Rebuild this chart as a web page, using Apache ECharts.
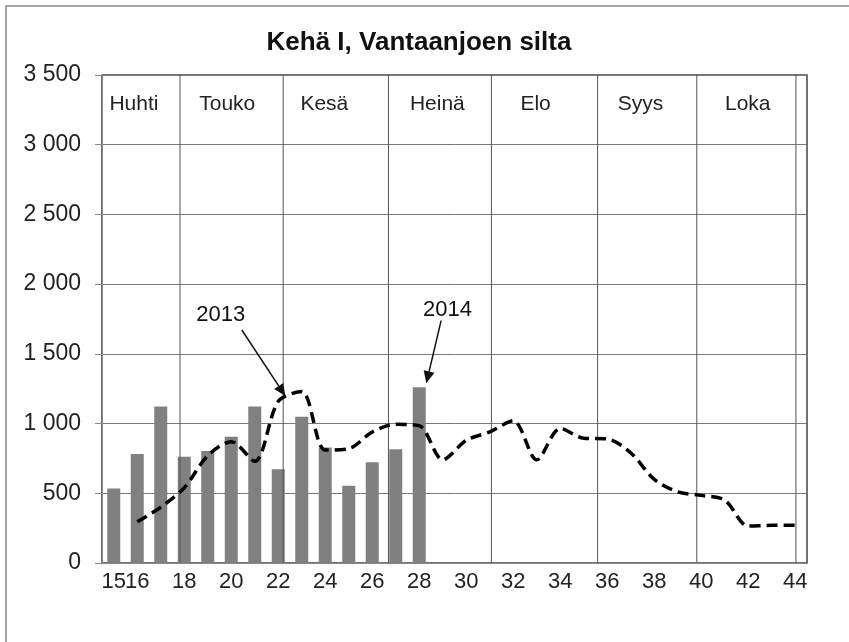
<!DOCTYPE html>
<html lang="fi">
<head>
    <meta charset="UTF-8">
    <title>Kehä I, Vantaanjoen silta</title>
    <script src="https://cdn.jsdelivr.net/npm/echarts@6/dist/echarts.min.js"></script>
    <style>
        html, body { margin: 0; padding: 0; background: #fff; }
        #chart { width: 849px; height: 642px; }
    </style>
</head>
<body>
    <div id="chart"></div>
    <script>
    // viikot 15-44
    const weeks = [];
    for (let w = 15; w <= 44; w++) weeks.push(String(w));

    // 2014 (pylväät), viikot 15-28
    const bars2014 = [535, 781, 1123, 762, 803, 906, 1123, 672, 1049, 829, 554, 722, 815, 1260];

    // 2013 (katkoviiva), viikot 15-44 (viikko 15 puuttuu)
    const line2013 = ['-', 296, 400, 540, 770, 870, 730, 1160, 1230, 810, 820, 940, 995, 985,
        740, 880, 940, 1020, 740, 965, 895, 890, 790, 600, 510, 485, 450, 265, 270, 270];

    // kuukausien rajat ja nimet viikkoasteikolla
    const monthNames = ['Huhti', 'Touko', 'Kesä', 'Heinä', 'Elo', 'Syys', 'Loka'];
    const monthLabelAt = [15.86, 19.83, 23.96, 28.77, 32.95, 37.42, 41.98];
    const monthStart = [17.82, 22.21, 26.69, 31.07, 35.59, 39.81, 44.03];

    // x-akselilla näytettävät viikot
    const shownWeeks = ['15', '16', '18', '20', '22', '24', '26', '28', '30', '32', '34', '36', '38', '40', '42', '44'];

    // y-akselin asteikko
    const yMax = 3500;
    const yStep = 500;

    // selitteet nuolineen: [teksti x, y, nuolen alku x, y, kärki x, y]
    const noteText = ['2013', '2014'];
    const notes = [
        [19.55, 1779, 20.45, 1671, 22.30, 1198],
        [29.20, 1815, 28.93, 1738, 28.30, 1289]
    ];

    const FONT = '"Liberation Sans", Arial, sans-serif';

    function fmtThousands(v) {
        if (v < 1000) return String(v);
        const r = String(v % 1000).padStart(3, '0');
        return Math.floor(v / 1000) + ' ' + r;
    }

    const chart = echarts.init(document.getElementById('chart'), null, { renderer: 'canvas' });

    chart.setOption({
        animation: false,
        backgroundColor: '#fff',
        graphic: [
            {
                type: 'rect', silent: true, z: -1,
                shape: { x: 6, y: 6, width: 900, height: 700 },
                style: { fill: 'none', stroke: '#8a8a8a', lineWidth: 1.5 }
            },
            {
                type: 'text', x: 419, y: 43,
                style: {
                    text: 'Kehä I, Vantaanjoen silta',
                    font: 'bold 26px ' + FONT,
                    fill: '#111', align: 'center', verticalAlign: 'middle'
                }
            }
        ],
        grid: {
            left: 102, right: 42, top: 75, bottom: 79,
            show: true, borderColor: '#444', borderWidth: 1.5,
            backgroundColor: 'transparent'
        },
        xAxis: [
            {
                type: 'category',
                data: weeks,
                boundaryGap: true,
                axisLine: { lineStyle: { color: '#888', width: 1 } },
                axisTick: { interval: 0, length: 7, lineStyle: { color: '#888' } },
                axisLabel: {
                    interval: 0,
                    formatter: v => (shownWeeks.indexOf(v) >= 0 ? v : ''),
                    hideOverlap: false,
                    margin: 8,
                    fontFamily: FONT, fontSize: 22, color: '#222'
                },
                splitLine: { show: false }
            },
            {
                type: 'value', min: 14.5, max: 44.5, show: false,
                splitLine: { show: false }
            }
        ],
        yAxis: {
            type: 'value',
            min: 0, max: yMax, interval: yStep,
            axisLine: { show: true, lineStyle: { color: '#888', width: 1 } },
            axisTick: { show: true, length: 7, lineStyle: { color: '#888' } },
            axisLabel: {
                formatter: fmtThousands,
                margin: 21,
                fontFamily: FONT, fontSize: 23, color: '#222'
            },
            splitLine: { lineStyle: { color: '#7a7a7a', width: 1 } }
        },
        series: [
            {
                name: '2014',
                type: 'bar',
                data: bars2014,
                barWidth: 13,
                itemStyle: { color: '#808080' },
                z: 2
            },
            {
                name: 'kuukaudet',
                type: 'custom',
                xAxisIndex: 1,
                yAxisIndex: 0,
                data: monthStart.map(p => [p]),
                z: 3,
                silent: true,
                renderItem: function (params, api) {
                    const a = api.coord([api.value(0), 0]);
                    const b = api.coord([api.value(0), yMax]);
                    return {
                        type: 'line',
                        shape: { x1: a[0], y1: a[1], x2: b[0], y2: b[1] },
                        style: { stroke: '#555', lineWidth: 1 }
                    };
                }
            },
            {
                name: 'kuukausinimet',
                type: 'custom',
                xAxisIndex: 1,
                yAxisIndex: 0,
                data: monthLabelAt.map(p => [p]),
                z: 3,
                silent: true,
                renderItem: function (params, api) {
                    const p = api.coord([api.value(0), 3287]);
                    return {
                        type: 'text',
                        style: {
                            text: monthNames[params.dataIndex],
                            x: p[0], y: p[1],
                            align: 'center', verticalAlign: 'middle',
                            font: '21px ' + FONT, fill: '#222'
                        }
                    };
                }
            },
            {
                name: '2013',
                type: 'line',
                data: line2013,
                smooth: 0.3,
                symbol: 'none',
                connectNulls: false,
                lineStyle: { color: '#000', width: 3.5, type: [11, 6] },
                z: 4
            },
            {
                name: 'selitteet',
                type: 'custom',
                xAxisIndex: 1,
                yAxisIndex: 0,
                data: notes,
                z: 5,
                silent: true,
                renderItem: function (params, api) {
                    const t = api.coord([api.value(0), api.value(1)]);
                    const a = api.coord([api.value(2), api.value(3)]);
                    const b = api.coord([api.value(4), api.value(5)]);
                    const dx = b[0] - a[0], dy = b[1] - a[1];
                    const len = Math.hypot(dx, dy);
                    const ux = dx / len, uy = dy / len;
                    const hl = 12, hw = 5.5;
                    const base = [b[0] - ux * hl, b[1] - uy * hl];
                    return {
                        type: 'group',
                        children: [
                            {
                                type: 'text',
                                style: {
                                    text: noteText[params.dataIndex],
                                    x: t[0], y: t[1],
                                    align: 'center', verticalAlign: 'middle',
                                    font: '22px ' + FONT, fill: '#111'
                                }
                            },
                            {
                                type: 'line',
                                shape: { x1: a[0], y1: a[1], x2: base[0], y2: base[1] },
                                style: { stroke: '#111', lineWidth: 1.5 }
                            },
                            {
                                type: 'polygon',
                                shape: {
                                    points: [
                                        [b[0], b[1]],
                                        [base[0] - uy * hw, base[1] + ux * hw],
                                        [base[0] + uy * hw, base[1] - ux * hw]
                                    ]
                                },
                                style: { fill: '#111' }
                            }
                        ]
                    };
                }
            }
        ]
    });
    </script>
</body>
</html>
